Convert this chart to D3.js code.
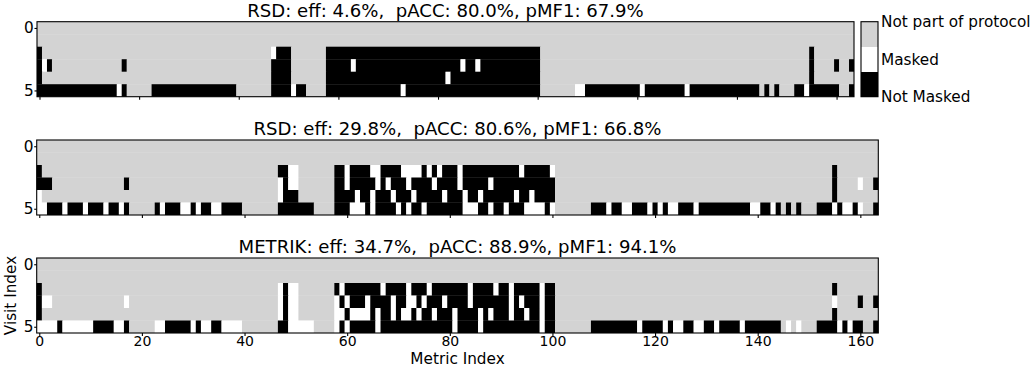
<!DOCTYPE html>
<html><head><meta charset="utf-8">
<script src="https://cdn.jsdelivr.net/npm/d3@7"></script>
<style>body{margin:0;background:#fff}svg{display:block}text{font-family:"DejaVu Sans",sans-serif;fill:#000}</style>
</head><body><svg id="chart" width="1036" height="371"></svg>
<script>
// ---------------- DATA ----------------
// cell codes: 0 = Not Masked, 1 = Masked, 2 = Not part of protocol
const metricCount = 164;
const visitIndex = [0, 1, 2, 3, 4, 5];
const panelTitles = [
  "RSD: eff: 4.6%,  pACC: 80.0%, pMF1: 67.9%",
  "RSD: eff: 29.8%,  pACC: 80.6%, pMF1: 66.8%",
  "METRIK: eff: 34.7%,  pACC: 88.9%, pMF1: 94.1%"
];
// each row string: metric 0..163, grouped by tens
const rsdMaskTop = [
  "2222222222 2222222222 2222222222 2222222222 2222222222 2222222222 2222222222 2222222222 2222222222 2222222222 2222222222 2222222222 2222222222 2222222222 2222222222 2222222222 2222",
  "2222222222 2222222222 2222222222 2222222222 2222222222 2222222222 2222222222 2222222222 2222222222 2222222222 2222222222 2222222222 2222222222 2222222222 2222222222 2222222222 2222",
  "0222222222 2222222222 2222222222 2222222222 2222222100 0222222200 0000000000 0000000000 0000000000 0000000000 0222222222 2222222222 2222222222 2222222222 2222222222 2222202222 2222",
  "0102222222 2222222022 2222222222 2222222222 2222222000 0222222200 0001000000 0000000000 0000010010 0000000000 0222222222 2222222222 2222222222 2222222222 2222222222 2222202222 0220",
  "0222222222 2222222222 2222222222 2222222222 2222222000 0222222200 0000000000 0000000000 0010000000 0000000000 0222222222 2222222222 2222222222 2222222222 2222222222 2222202222 2222",
  "0000000000 0000001022 2220000000 0000000000 2222222000 0100222200 0000000000 0001000000 0000000000 0000000000 0222222211 0000000000 0100000000 1000000000 0000020202 2200100000 0220"
];
const rsdMaskMid = [
  "2222222222 2222222222 2222222222 2222222222 2222222222 2222222222 2222222222 2222222222 2222222222 2222222222 2222222222 2222222222 2222222222 2222222222 2222222222 2222222222 2222",
  "2222222222 2222222222 2222222222 2222222222 2222222222 2222222222 2222222222 2222222222 2222222222 2222222222 2222222222 2222222222 2222222222 2222222222 2222222222 2222222222 2222",
  "0222222222 2222222222 2222222222 2222222222 2222222001 1222222200 1000011000 0111101010 0010000000 0000100000 1222222222 2222222222 2222222222 2222222222 2222222222 2222202222 2222",
  "0002222222 2222222022 2222222222 2222222222 2222222101 1222222200 1000001010 0010000100 0010000010 0000000000 0222222222 2222222222 2222222222 2222222222 2222222222 2222202222 1220",
  "1222222222 2222222222 2222222222 2222222222 2222222100 0222222200 0010010001 0001000001 0001001000 0001001000 0222222222 2222222222 2222222222 2222222222 2222222222 2222202222 2222",
  "1100010001 0001001022 2220100011 0100110000 2222222000 0000222200 0111010000 1010010000 0001110010 0100011110 1222222200 0100110001 0101100010 0000000001 1001020202 2200010110 1220"
];
const metrikMask = [
  "2222222222 2222222222 2222222222 2222222222 2222222222 2222222222 2222222222 2222222222 2222222222 2222222222 2222222222 2222222222 2222222222 2222222222 2222222222 2222222222 2222",
  "2222222222 2222222222 2222222222 2222222222 2222222222 2222222222 2222222222 2222222222 2222222222 2222222222 2222222222 2222222222 2222222222 2222222222 2222222222 2222222222 2222",
  "0222222222 2222222222 2222222222 2222222222 2222222101 1222222201 0000000100 0010001000 0000100001 0010000010 0222222222 2222222222 2222222222 2222222222 2222222222 2222202222 2222",
  "0112222222 2222222122 2222222222 2222222222 2222222101 1222222210 1000100001 0011010001 0000100000 0010100010 0222222222 2222222222 2222222222 2222222222 2222222222 2222212222 0220",
  "0222222222 2222222222 2222222222 2222222222 2222222101 1222222211 0111101001 0110100100 0100001010 0010010010 0222222222 2222222222 2222222222 2222222222 2222222222 2222202222 2222",
  "1111011111 1000011022 2221100000 1011001111 2222222001 1111222210 1000001000 0000000000 0100001000 0000000010 0222222200 0000000100 0010110011 0010000100 0000021212 2200001010 0220"
];
const xTickValues = [0, 20, 40, 60, 80, 100, 120, 140, 160];
const yTickValues = [0, 5];
const legendValues = [0, 1, 2];
const legendLabels = ["Not Masked", "Masked", "Not part of protocol"];
const cellColors = ["#000000", "#ffffff", "#d3d3d3"];
const xAxisLabel = "Metric Index";
const yAxisLabel = "Visit Index";

// ---------------- LAYOUT ----------------
const panels = [
  {mask: rsdMaskTop, title: panelTitles[0], left: 37, right: 854, top: 21.7, bottom: 96.7, xLabels: false},
  {mask: rsdMaskMid, title: panelTitles[1], left: 36.7, right: 878.3, top: 140, bottom: 215, xLabels: false},
  {mask: metrikMask, title: panelTitles[2], left: 36.7, right: 878.3, top: 258, bottom: 333, xLabels: true}
];
const cbar = {left: 861, right: 878, top: 21.7, bottom: 96.7};
const tickFont = 15.28, xTickFont = 14, titleFont = 18.1;

const svg = d3.select("#chart");
const color = d3.scaleOrdinal().domain(legendValues).range(cellColors);

function parseRows(rows) {
  return rows.map(s => s.replace(/\s+/g, "").split("").map(Number));
}

panels.forEach(p => {
  const grid = parseRows(p.mask);
  const x = d3.scaleLinear().domain([-0.5, metricCount - 0.5]).range([p.left, p.right]);
  const y = d3.scaleLinear().domain([-0.5, visitIndex.length - 0.5]).range([p.top, p.bottom]);
  const g = svg.append("g");
  const runs = [];
  grid.forEach((row, r) => {
    let start = 0;
    for (let c = 1; c <= row.length; c++) {
      if (c === row.length || row[c] !== row[start]) {
        runs.push({r, c0: start, c1: c - 1, v: row[start]});
        start = c;
      }
    }
  });
  g.selectAll("rect.cell").data(runs).join("rect")
    .attr("class", "cell")
    .attr("x", d => x(d.c0 - 0.5))
    .attr("y", d => y(d.r - 0.5))
    .attr("width", d => x(d.c1 + 0.5) - x(d.c0 - 0.5) + (d.c1 < metricCount - 1 ? 0.3 : 0))
    .attr("height", d => y(d.r + 0.5) - y(d.r - 0.5) + (d.r < visitIndex.length - 1 ? 0.3 : 0))
    .attr("fill", d => color(d.v));
  g.append("rect")
    .attr("x", p.left).attr("y", p.top)
    .attr("width", p.right - p.left).attr("height", p.bottom - p.top)
    .attr("fill", "none").attr("stroke", "#000").attr("stroke-width", 1.1);

  const yAxis = d3.axisLeft(y).tickValues(yTickValues).tickSize(2.5).tickPadding(0.8).tickFormat(d3.format("d"));
  const ya = g.append("g").attr("transform", `translate(${p.left},0)`).call(yAxis);
  ya.select(".domain").remove();
  ya.selectAll("line").attr("stroke-width", 1.1);
  ya.selectAll("text").attr("font-size", tickFont).attr("font-family", "DejaVu Sans");

  const xAxis = d3.axisBottom(x).tickValues(xTickValues).tickSize(3).tickPadding(0)
    .tickFormat(p.xLabels ? d3.format("d") : () => "");
  const xa = g.append("g").attr("transform", `translate(0,${p.bottom})`).call(xAxis);
  xa.select(".domain").remove();
  xa.selectAll("line").attr("stroke-width", 1.1);
  xa.selectAll("text").attr("font-size", xTickFont).attr("font-family", "DejaVu Sans");

  g.append("text")
    .attr("x", (p.left + p.right) / 2).attr("y", p.top - 4.6)
    .attr("text-anchor", "middle").attr("font-size", titleFont)
    .style("white-space", "pre").attr("xml:space", "preserve")
    .text(p.title);
});

// colorbar
const cy = d3.scaleLinear().domain([0, 2]).range([cbar.bottom, cbar.top]);
const segs = legendValues.map((v, i) => ({v, lo: i * 2 / 3, hi: (i + 1) * 2 / 3}));
svg.append("g").selectAll("rect").data(segs).join("rect")
  .attr("x", cbar.left).attr("width", cbar.right - cbar.left)
  .attr("y", d => cy(d.hi)).attr("height", d => cy(d.lo) - cy(d.hi) + 0.3)
  .attr("fill", d => color(d.v));
svg.append("rect").attr("x", cbar.left).attr("y", cbar.top)
  .attr("width", cbar.right - cbar.left).attr("height", cbar.bottom - cbar.top)
  .attr("fill", "none").attr("stroke", "#000").attr("stroke-width", 1.1);
const cAxis = d3.axisRight(cy).tickValues(legendValues).tickSize(0).tickPadding(3)
  .tickFormat((d, i) => legendLabels[i]);
const ca = svg.append("g").attr("transform", `translate(${cbar.right},0)`).call(cAxis);
ca.select(".domain").remove();
ca.selectAll("text").attr("font-size", tickFont).attr("font-family", "DejaVu Sans");

// axis labels
svg.append("text").attr("x", 457.5).attr("y", 364).attr("text-anchor", "middle")
  .attr("font-size", tickFont).text(xAxisLabel);
svg.append("text").attr("transform", "translate(16,295.5) rotate(-90)")
  .attr("text-anchor", "middle").attr("font-size", tickFont).text(yAxisLabel);
</script></body></html>
